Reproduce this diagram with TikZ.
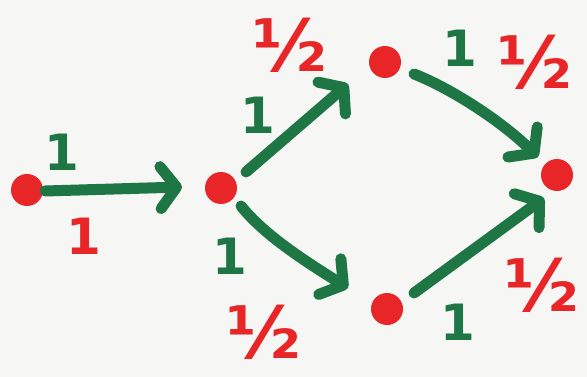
\documentclass[tikz,border=0pt]{standalone}
\usepackage{fontspec}
\setmainfont{DejaVu Sans}
\usetikzlibrary{arrows.meta}
\definecolor{mkgreen}{RGB}{30,118,68}
\definecolor{mkred}{RGB}{232,38,40}
\definecolor{paper}{RGB}{246,246,244}
\tikzset{
  dot/.style={circle,fill=mkred,minimum size=32pt,inner sep=0pt},
  arr/.style={draw=mkgreen,line width=11pt,line cap=round,line join=round,
    -{Straight Barb[length=16pt,width=42pt,round]}},
  glab/.style={text=mkgreen,font=\bfseries\fontsize{50}{50}\selectfont,inner sep=0pt},
  rlab/.style={text=mkred,font=\bfseries\fontsize{50}{50}\selectfont,inner sep=0pt},
  hlab/.style={text=mkred,font=\bfseries\fontsize{72}{72}\selectfont,inner sep=0pt},
}
\begin{document}
\begin{tikzpicture}[x=1pt,y=-1pt]
\fill[paper] (0,0) rectangle (587,377);
\useasboundingbox (0,0) rectangle (587,377);
\node[dot] (a) at (27,190) {};
\node[dot] (b) at (221,188) {};
\node[dot] (c) at (385,62) {};
\node[dot] (d) at (387,309) {};
\node[dot] (e) at (557,175) {};
\coordinate (ab1) at (45,191);
\coordinate (ab2) at (182,187);
\coordinate (bc1) at (246,172);
\coordinate (bc2) at (348,84);
\coordinate (bd1) at (241,206);
\coordinate (bd2) at (348,288);
\coordinate (ce1) at (414,74);
\coordinate (ce2) at (538,157);
\coordinate (de1) at (414,293);
\coordinate (de2) at (544,198);
\draw[arr] (ab1) -- (ab2);
\draw[arr] (bc1) -- (bc2);
\draw[arr] (bd1) .. controls (262,232) and (295,255) .. (bd2);
\draw[arr] (ce1) .. controls (450,88) and (500,120) .. (ce2);
\draw[arr] (de1) -- (de2);
\node[glab] (g1) at (62,152) {1};
\node[glab] (g2) at (258,115) {1};
\node[glab] (g3) at (230,256) {1};
\node[glab] (g4) at (460,48) {1};
\node[glab] (g5) at (458,322) {1};
\node[rlab] (r1) at (84,236) {1};
\node[hlab] (h1) at (290,45) {½};
\node[hlab] (h2) at (535,62) {½};
\node[hlab] (h3) at (542,285) {½};
\node[hlab] (h4) at (264,332) {½};
\end{tikzpicture}
\end{document}
